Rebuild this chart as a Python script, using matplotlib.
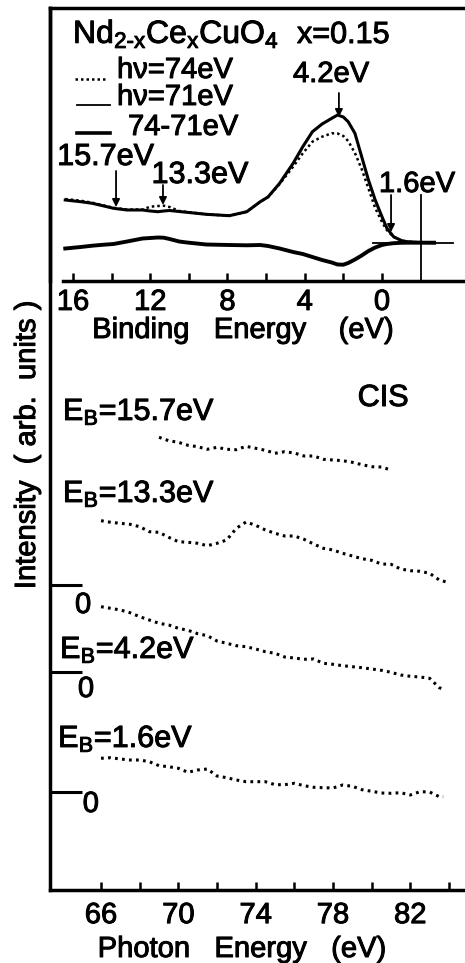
import matplotlib
matplotlib.use('Agg')
import matplotlib.pyplot as plt
import matplotlib.patheffects as pe

plt.rcParams['font.family'] = ['Liberation Sans', 'DejaVu Sans']
plt.rcParams['mathtext.fontset'] = 'custom'
plt.rcParams['mathtext.rm'] = 'Liberation Sans'
plt.rcParams['mathtext.it'] = 'Liberation Sans'
plt.rcParams['mathtext.bf'] = 'Liberation Sans:bold'

# ---- EDC (upper panel): binding energy vs intensity (arb. units)
be = [16.4, 15.6, 15.0, 14.4, 13.9, 13.2, 12.4, 12.0, 11.6, 11.3, 11.0, 10.5, 10.1,
      9.1, 7.9, 7.0, 6.3, 5.9, 5.3, 4.6, 4.1, 3.6, 3.1, 2.6, 2.3, 2.0, 1.75, 1.4,
      1.05, 0.7, 0.35, 0.0, -0.25, -0.6, -1.0, -1.3, -1.8, -2.5, -2.7]
edc_74 = [82, 80.3, 78.3, 75.5, 73.2, 71.5, 71.5, 74.3, 75, 75.3, 74, 70, 69,
          66.7, 65.3, 69.3, 79.3, 84, 97, 114.3, 127.7, 139.3, 144.3, 147.7, 147.5, 145, 140, 128,
          112, 92.5, 73, 59, 51, 44, 40.5, 39.3, 38.7, 38.3, 38.3]
edc_71 = [81, 79.3, 77.7, 75, 72.7, 71, 71, 70, 69.3, 70, 70.5, 69.5, 68.7,
          66.7, 65.3, 69.3, 79.3, 84, 97.7, 117.7, 134.3, 149.3, 157, 162.7, 166, 164, 159.3, 147.7,
          124.3, 101, 81, 64.3, 53, 44.3, 40.5, 39.3, 38.7, 38.3, 38.3]
edc_diff = [32.5, 34, 35.3, 36.3, 37, 39.5, 42.5, 43, 43.5, 43.3, 42, 39.5, 38.5,
            36.5, 36, 35.7, 36, 35, 32.5, 29, 27, 24, 21, 18.5, 16.5, 16.3, 18, 21.5,
            25.5, 30, 33.5, 36, 37, 37.8, 38.2, 38.3, 38.3, 38.3, 38.3]
diff_zero = 38.3

# ---- CIS (lower panel): photon energy vs intensity (arb. units, offset)
hv_157 = [69.0, 69.5, 70.0, 70.5, 71.0, 71.5, 72.0, 72.5, 73.0, 73.5, 74.0, 74.5, 75.0,
          75.5, 76.0, 76.5, 77.0, 77.5, 78.0, 78.5, 79.0, 79.5, 80.0, 80.5, 81.0]
cis_157 = [452.7, 449.3, 447.7, 444.7, 443.3, 440.7, 442.7, 440.7, 440.3, 443.7, 441.7, 439.7, 436.7,
           438.3, 437, 434, 434, 430.7, 430, 429.3, 427.7, 425.3, 423.3, 423, 420]

hv_133 = [66.0, 66.5, 67.0, 67.5, 68.0, 68.5, 69.0, 69.5, 70.0, 70.5, 71.0, 71.5, 72.0,
          72.5, 73.0, 73.5, 74.0, 74.5, 75.0, 75.5, 76.0, 76.5, 77.0, 77.5, 78.0, 78.5,
          79.0, 79.5, 80.0, 80.5, 81.0, 81.5, 82.0, 82.5, 83.0, 83.5, 84.0]
cis_133 = [369.3, 367.7, 366.7, 365.7, 363.3, 358.3, 357.7, 352.7, 348.3, 347.7, 346.7, 344.3, 346.7,
           350, 361.7, 368, 364.7, 360, 356.7, 354, 354, 350.7, 346, 341.7, 340, 336.7,
           334, 331.3, 329.7, 326, 325.7, 321, 319.3, 318.7, 316.7, 310, 307.3]

hv_42 = [66.0, 66.5, 67.0, 67.5, 68.0, 68.5, 69.0, 69.5, 70.0, 70.5, 71.0, 71.5, 72.0,
         72.5, 73.0, 73.5, 74.0, 74.5, 75.0, 75.5, 76.0, 76.5, 77.0, 77.5, 78.0, 78.5,
         79.0, 79.5, 80.0, 80.5, 81.0, 81.5, 82.0, 82.5, 83.0, 83.5, 83.8]
cis_42 = [283.3, 281.7, 280, 277.3, 273.3, 270, 266.7, 265, 261.7, 259.7, 256.3, 254.3, 249,
          246.7, 244.3, 243.3, 241, 238.3, 236.7, 233, 232, 230.7, 231, 226.7, 225.7, 224.3,
          223.3, 222.3, 221, 219.7, 217.7, 215, 213.7, 213, 211.7, 202.3, 200]

hv_16 = [66.0, 66.5, 67.0, 67.5, 68.0, 68.5, 69.0, 69.5, 70.0, 70.5, 71.0, 71.5, 72.0,
         72.5, 73.0, 73.5, 74.0, 74.5, 75.0, 75.5, 76.0, 76.5, 77.0, 77.5, 78.0, 78.5,
         79.0, 79.5, 80.0, 80.5, 81.0, 81.5, 82.0, 82.5, 83.0, 83.5, 83.7]
cis_16 = [131.7, 132.3, 131, 130, 130, 128.3, 124.3, 123.3, 121.7, 117.7, 120, 121, 114,
          112.3, 110, 108.3, 108.3, 108.3, 105.3, 105.3, 106.7, 104.3, 102.7, 102.3, 102, 105,
          103.7, 100.3, 98.7, 97, 96.7, 97.3, 95, 98.3, 98, 93.3, 93.3]

zero_levels = [305, 218, 98]

fig = plt.figure(figsize=(4.65, 9.63), dpi=100)

# lower panel (its left spine runs the full height)
ax = fig.add_axes([50/465, 73/963, 415/465, 882/963])
ax.set_xlim(63.36, 84.83)
ax.set_ylim(0, 882)
ax.spines['top'].set_visible(False)
ax.spines['right'].set_visible(False)
ax.spines['left'].set_linewidth(2.5)
ax.spines['bottom'].set_linewidth(2.5)
ax.set_xticks([66, 70, 74, 78, 82])
ax.set_xticks([68, 72, 76, 80, 84], minor=True)
ax.set_yticks([])
ax.tick_params(axis='x', which='both', direction='in', length=6, width=1.8,
               labelsize=21, pad=8)

dots = (0, (0.9, 1.4))
for x, y in [(hv_157, cis_157), (hv_133, cis_133), (hv_42, cis_42), (hv_16, cis_16)]:
    ax.plot(x, y, color='black', lw=2.2, ls=dots)

for z, lx, ly in zip(zero_levels, [65.07, 65.22, 65.47], [277, 193, 78]):
    ax.plot([63.36, 65.02], [z, z], color='black', lw=2.2, solid_capstyle='butt')
    ax.text(lx, ly, '0', ha='center', va='baseline', fontsize=21)

ax.text(64.03, 470, r'E$_\mathrm{B}$=15.7eV', fontsize=22, va='baseline')
ax.text(64.03, 388, r'E$_\mathrm{B}$=13.3eV', fontsize=22, va='baseline')
ax.text(63.88, 232, r'E$_\mathrm{B}$=4.2eV', fontsize=22, va='baseline')
ax.text(63.78, 143, r'E$_\mathrm{B}$=1.6eV', fontsize=22, va='baseline')
ax.text(80.59, 484, 'CIS', fontsize=22, ha='center', va='baseline')

# upper panel
ax2 = fig.add_axes([50/465, (963-281)/963, 415/465, 273/963])
ax2.patch.set_alpha(0)
ax2.set_xlim(17.19, -4.30)
ax2.set_ylim(0, 273)
ax2.spines['right'].set_visible(False)
for s in ['left', 'top', 'bottom']:
    ax2.spines[s].set_linewidth(2.5)
ax2.spines['bottom'].set_bounds(16.52, -4.30)
ax2.set_xticks([16, 12, 8, 4, 0])
ax2.set_xticks([14, 10, 6, 2], minor=True)
ax2.set_yticks([])
ax2.tick_params(axis='x', which='both', direction='in', length=6, width=1.8,
                labelsize=21, pad=5)

ax2.plot(be, edc_74, color='black', lw=1.8, ls=(0, (1, 1.2)))
ax2.plot(be, edc_71, color='black', lw=2.2)
ax2.plot(be, edc_diff, color='black', lw=2.8)
ax2.plot([0.45, -3.68], [diff_zero, diff_zero], color='black', lw=1.3)
ax2.plot([-2.02, -2.02], [0, 86], color='black', lw=1.3)

arr = dict(arrowstyle='-|>', color='black', lw=1.3, mutation_scale=11, shrinkA=0, shrinkB=0)
for x, y0, y1 in [(2.23, 188, 164), (13.77, 110, 74), (11.34, 96, 76), (-0.47, 86, 49)]:
    ax2.annotate('', xy=(x, y1), xytext=(x, y0), arrowprops=arr)

ax2.text(2.64, 199, '4.2eV', ha='center', va='baseline', fontsize=21)
ax2.text(14.32, 116, '15.7eV', ha='center', va='baseline', fontsize=22)
ax2.text(9.43, 98, '13.3eV', ha='center', va='baseline', fontsize=22)
ax2.text(-1.81, 89, '1.6eV', ha='center', va='baseline', fontsize=21)

ax2.text(16.0, 238, r'Nd$_{2\text{-}x}$Ce$_\mathrm{x}$CuO$_4$', fontsize=23, va='baseline')
ax2.text(4.40, 238, 'x=0.15', fontsize=22, va='baseline')

ax2.plot([15.9, 14.19], [202, 202], color='black', lw=1.8, ls=(0, (1, 1.2)))
ax2.plot([15.79, 14.09], [176, 176], color='black', lw=1.3)
ax2.plot([15.79, 14.09], [148, 148], color='black', lw=2.6)
ax2.text(13.72, 203, 'hν=74eV', fontsize=21, va='baseline')
ax2.text(13.72, 176, 'hν=71eV', fontsize=21, va='baseline')
ax2.text(13.15, 146, '74-71eV', fontsize=21, va='baseline')

fig.text(243/465, 1 - 338/963, 'Binding   Energy    (eV)', ha='center', va='baseline', fontsize=21)
fig.text(242/465, 1 - 957/963, 'Photon   Energy   (eV)', ha='center', va='baseline', fontsize=21)
fig.text(27/465, 1 - 445/963, 'Intensity  ( arb.  units )', rotation=90,
         ha='center', va='center', fontsize=21)

# printed-figure look: slightly heavier glyphs
heavy = [pe.withStroke(linewidth=0.7, foreground='black')]
for t in fig.findobj(matplotlib.text.Text):
    t.set_path_effects(heavy)

fig.savefig('out.png', dpi=100)
